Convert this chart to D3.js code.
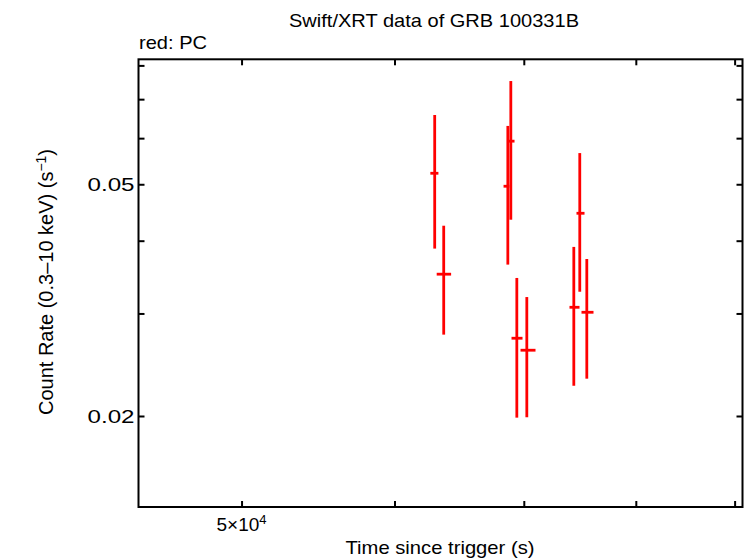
<!DOCTYPE html>
<html><head><meta charset="utf-8">
<script src="https://cdn.jsdelivr.net/npm/d3@7"></script>
<style>body{margin:0;background:#fff}svg{display:block;font-family:"Liberation Sans",Arial,sans-serif}</style>
</head><body>
<svg id="c" width="746" height="558"></svg>
<script>
// Data (time in s, rate in counts/s)
const time    = [62946, 63626, 68680, 68925, 69420, 70252, 74300, 74830, 75460];
const timeLo  = [62620, 63096, 68330, 68680, 68982, 69727, 73918, 74538, 74984];
const timeHi  = [63225, 64190, 68800, 69230, 69893, 70984, 74806, 75254, 76065];
const rate    = [0.05222, 0.03504, 0.04961, 0.05929, 0.02720, 0.02594, 0.03074, 0.04458, 0.03014];
const rateLo  = [0.03877, 0.02759, 0.03639, 0.04346, 0.01987, 0.01990, 0.02254, 0.03269, 0.02318];
const rateHi  = [0.06575, 0.04244, 0.06297, 0.07520, 0.03452, 0.03201, 0.03903, 0.05656, 0.03721];
const xTicksMajor = [50000];
const xTicksMinor = [60000, 70000, 80000, 90000];
const yTicksMajor = [0.02, 0.05];
const yTicksMinor = [0.03, 0.04, 0.06, 0.07, 0.08];
const xDomain = [44220, 90850];
const yDomain = [0.013956, 0.08195];

const svg = d3.select("#c");
const L = 138.5, R = 742.5, T = 59.3, B = 507;
const x = d3.scaleLog().domain(xDomain).range([L, R]);
const y = d3.scaleLog().domain(yDomain).range([B, T]);

const pts = time.map((t,i)=>({t, tl:timeLo[i], th:timeHi[i], r:rate[i], rl:rateLo[i], rh:rateHi[i]}));
const g = svg.append("g");
g.selectAll("line.v").data(pts).join("line")
  .attr("x1", d=>x(d.t)).attr("x2", d=>x(d.t))
  .attr("y1", d=>y(d.rl)).attr("y2", d=>y(d.rh))
  .attr("stroke", "#ff0000").attr("stroke-width", 2.8);
g.selectAll("line.h").data(pts).join("line")
  .attr("x1", d=>x(d.tl)).attr("x2", d=>x(d.th))
  .attr("y1", d=>y(d.r)).attr("y2", d=>y(d.r))
  .attr("stroke", "#ff0000").attr("stroke-width", 2.8);

// Axes (ticks inward on all four sides)
const tk = 6;
const axB = d3.axisBottom(x).tickValues(xTicksMajor.concat(xTicksMinor)).tickSize(-tk).tickFormat("");
const axT = d3.axisTop(x).tickValues(xTicksMajor.concat(xTicksMinor)).tickSize(-tk).tickFormat("");
const axL = d3.axisLeft(y).tickValues(yTicksMajor.concat(yTicksMinor)).tickSize(-tk).tickFormat("");
const axR = d3.axisRight(y).tickValues(yTicksMajor.concat(yTicksMinor)).tickSize(-tk).tickFormat("");
[[axB,`translate(0,${B})`],[axT,`translate(0,${T})`],[axL,`translate(${L},0)`],[axR,`translate(${R},0)`]].forEach(([a,tr])=>{
  const ga = svg.append("g").attr("transform", tr).call(a);
  ga.select(".domain").remove();
  ga.selectAll(".tick line").attr("stroke","#000").attr("stroke-width",2);
});
svg.append("rect").attr("x",L).attr("y",T).attr("width",R-L).attr("height",B-T)
  .attr("fill","none").attr("stroke","#000").attr("stroke-width",2);

// Tick labels
svg.selectAll("text.yl").data(yTicksMajor).join("text")
  .attr("x", L-4).attr("y", d=>y(d)).attr("dy","0.35em")
  .attr("text-anchor","end").attr("font-size",19).attr("textLength",47).attr("lengthAdjust","spacingAndGlyphs")
  .text(d=>d3.format(".2f")(d));
const xl = svg.append("text").attr("x", x(xTicksMajor[0])).attr("y", B+24)
  .attr("text-anchor","middle").attr("font-size",19);
xl.append("tspan").text("5×10");
xl.append("tspan").attr("font-size",13).attr("dy",-7).text("4");

// Titles
svg.append("text").attr("x",434).attr("y",27).attr("text-anchor","middle").attr("font-size",19)
  .attr("textLength",290).attr("lengthAdjust","spacingAndGlyphs")
  .text("Swift/XRT data of GRB 100331B");
svg.append("text").attr("x",139).attr("y",49).attr("font-size",19)
  .attr("textLength",68).attr("lengthAdjust","spacingAndGlyphs").text("red: PC");
svg.append("text").attr("x",440).attr("y",554).attr("text-anchor","middle").attr("font-size",19)
  .attr("textLength",189).attr("lengthAdjust","spacingAndGlyphs")
  .text("Time since trigger (s)");
const yt = svg.append("text").attr("transform","translate(53,282) rotate(-90)")
  .attr("text-anchor","middle").attr("font-size",20);
yt.append("tspan").text("Count Rate (0.3\u201310 keV) (s");
yt.append("tspan").attr("font-size",14).attr("dy",-7).text("\u22121");
yt.append("tspan").attr("dy",7).text(")");
</script>
</body></html>
